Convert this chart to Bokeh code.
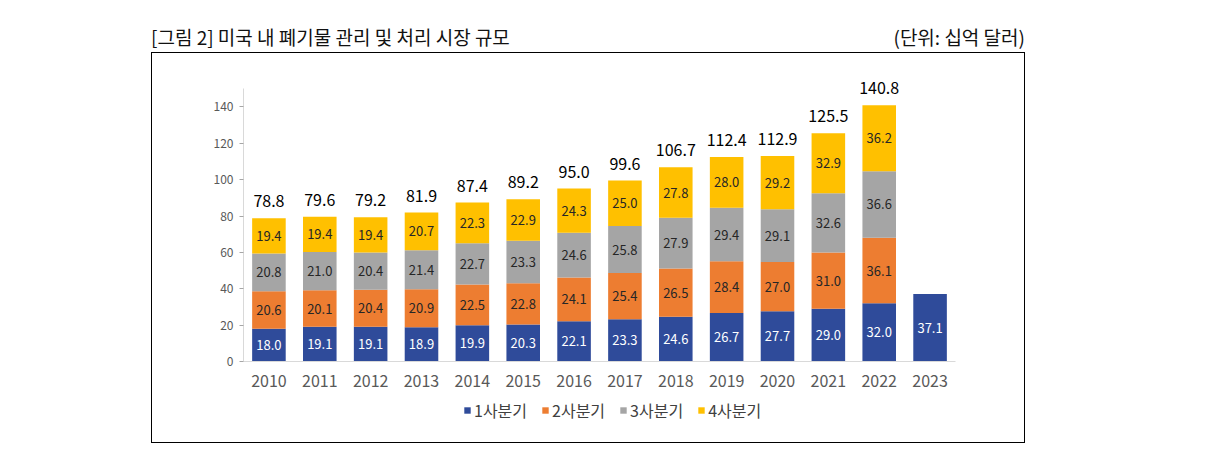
from bokeh.plotting import figure
from bokeh.models import (ColumnDataSource, FactorRange, Range1d, FixedTicker, Legend, LegendItem, Div)
from bokeh.layouts import column
from bokeh.core.properties import value
from bokeh.embed import file_html
from bokeh.resources import INLINE

years = [str(y) for y in range(2010, 2024)]
q1 = [18.0, 19.1, 19.1, 18.9, 19.9, 20.3, 22.1, 23.3, 24.6, 26.7, 27.7, 29.0, 32.0, 37.1]
q2 = [20.6, 20.1, 20.4, 20.9, 22.5, 22.8, 24.1, 25.4, 26.5, 28.4, 27.0, 31.0, 36.1, None]
q3 = [20.8, 21.0, 20.4, 21.4, 22.7, 23.3, 24.6, 25.8, 27.9, 29.4, 29.1, 32.6, 36.6, None]
q4 = [19.4, 19.4, 19.4, 20.7, 22.3, 22.9, 24.3, 25.0, 27.8, 28.0, 29.2, 32.9, 36.2, None]
totals = [78.8, 79.6, 79.2, 81.9, 87.4, 89.2, 95.0, 99.6, 106.7, 112.4, 112.9, 125.5, 140.8, None]
series_names = ["1사분기", "2사분기", "3사분기", "4사분기"]
y_ticks = [0, 20, 40, 60, 80, 100, 120, 140]
title_text = "[그림 2] 미국 내 폐기물 관리 및 처리 시장 규모"
unit_text = "(단위: 십억 달러)"

colors = ["#2F4B9A", "#ED7D31", "#A5A5A5", "#FFC000"]
label_colors = ["#FFFFFF", "#262626", "#262626", "#262626"]
FONT = "Noto Sans CJK KR"

series = [q1, q2, q3, q4]
keys = ["q1", "q2", "q3", "q4"]
data = {"year": years}
for k, s in zip(keys, series):
    data[k] = [v if v is not None else 0 for v in s]
src = ColumnDataSource(data)

p = figure(width=872, height=340, x_range=FactorRange(factors=years),
           y_range=Range1d(0, 165), output_backend="svg", toolbar_location=None,
           min_border_left=91, min_border_right=69, min_border_top=8, min_border_bottom=32,
           margin=0)
p.outline_line_color = None
p.xgrid.grid_line_color = None
p.ygrid.grid_line_color = None
p.background_fill_color = "white"
p.border_fill_color = "white"

renderers = p.vbar_stack(keys, x="year", width=0.66, color=colors, line_color=None, source=src)

# segment labels
for i, (k, s) in enumerate(zip(keys, series)):
    xs, ys, ts = [], [], []
    for j, v in enumerate(s):
        if v is None:
            continue
        base = sum(series[m][j] or 0 for m in range(i))
        xs.append(years[j])
        ys.append(base + v / 2)
        ts.append(f"{v:.1f}")
    lsrc = ColumnDataSource(dict(x=xs, y=ys, t=ts))
    p.text(x="x", y="y", text="t", source=lsrc, text_align="center", text_baseline="middle",
           text_font=value(FONT), text_font_size="13px", text_color=label_colors[i])

# total labels
tx, ty, tt = [], [], []
for j, t in enumerate(totals):
    if t is None:
        continue
    tx.append(years[j])
    ty.append(sum(series[m][j] or 0 for m in range(4)))
    tt.append(f"{t:.1f}")
tsrc = ColumnDataSource(dict(x=tx, y=ty, t=tt))
p.text(x="x", y="y", text="t", source=tsrc, text_align="center", text_baseline="bottom",
       y_offset=-11, text_font=value(FONT), text_font_size="16px", text_color="#000000")

# axes
ya = p.yaxis[0]
ya.ticker = FixedTicker(ticks=y_ticks)
ya.bounds = (0, 150)
ya.axis_line_color = "#D9D9D9"
ya.major_tick_line_color = "#A6A6A6"
ya.major_tick_out = 4
ya.major_tick_in = 0
ya.minor_tick_line_color = None
ya.major_label_text_font = FONT
ya.major_label_text_font_size = "12px"
ya.major_label_text_color = "#595959"
ya.major_label_standoff = 6

xa = p.xaxis[0]
xa.axis_line_color = "#D9D9D9"
xa.major_tick_line_color = None
xa.minor_tick_line_color = None
xa.major_label_text_font = FONT
xa.major_label_text_font_size = "16px"
xa.major_label_text_color = "#595959"
xa.major_label_standoff = 7

# legend strip: a small figure (frame aligned with the chart's) holding the legend;
# its proxy bars use the same data but lie outside its visible y range
lf = figure(width=872, height=49, x_range=FactorRange(factors=years), y_range=Range1d(1000, 1001),
            output_backend="svg", toolbar_location=None, x_axis_location=None, y_axis_location=None,
            min_border=0, margin=0)
lf.outline_line_color = None
lf.xgrid.grid_line_color = None
lf.ygrid.grid_line_color = None
lf.background_fill_color = "white"
lf.border_fill_color = "white"
leg_renderers = lf.vbar_stack(keys, x="year", width=0.66, color=colors, line_color=None, source=src)
legend = Legend(items=[LegendItem(label=n, renderers=[r]) for n, r in zip(series_names, leg_renderers)],
                orientation="horizontal", location=(220, 20), padding=0, margin=0, spacing=14,
                glyph_width=8, glyph_height=8, label_standoff=3,
                label_text_font=FONT, label_text_font_size="16px", label_text_color="#404040",
                border_line_color=None, background_fill_alpha=0)
lf.add_layout(legend, "center")

header = Div(
    text=(f'<div style="display:flex;justify-content:space-between;align-items:flex-end;'
          f'width:874px;height:52px;font-family:\'{FONT}\';font-size:19px;color:#111;'
          f'box-sizing:border-box;padding-bottom:3px;line-height:24px;">'
          f'<span>{title_text}</span><span>{unit_text}</span></div>'),
    width=874, height=52, margin=(0, 0, 0, 151))

boxed = column(p, lf, spacing=0, margin=(0, 0, 0, 151), styles={"border": "1px solid #000000"})
layout = column(header, boxed, spacing=0, margin=0)

open("out.html", "w").write(file_html(layout, INLINE))
